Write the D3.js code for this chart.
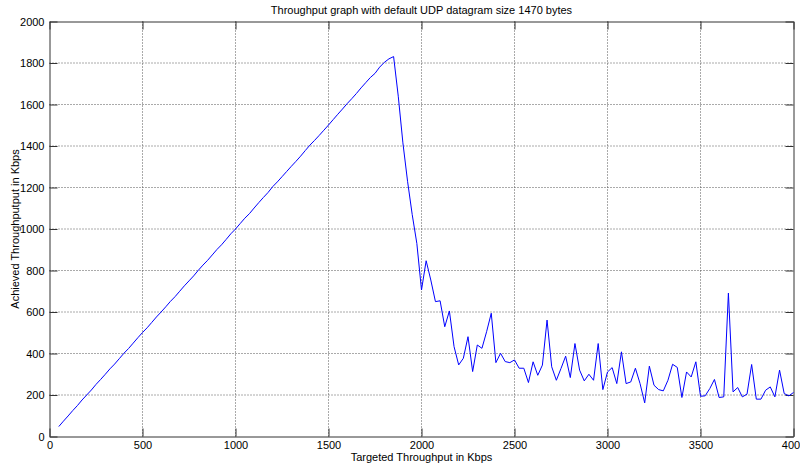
<!DOCTYPE html>
<html>
<head>
<meta charset="utf-8">
<script src="https://cdn.jsdelivr.net/npm/d3@7"></script>
<style>
  body { margin: 0; background: #fff; }
  text { font-family: "Liberation Sans", Arial, sans-serif; }
</style>
</head>
<body>
<div id="chart"></div>
<script>
// targeted throughput (Kbps), one sample every 25 Kbps
const targeted = [
  50, 75, 100, 125, 150, 175, 200, 225, 250, 275, 300, 325, 350, 375, 400, 425, 450, 475,
  500, 525, 550, 575, 600, 625, 650, 675, 700, 725, 750, 775, 800, 825, 850, 875, 900, 925,
  950, 975, 1000, 1025, 1050, 1075, 1100, 1125, 1150, 1175, 1200, 1225, 1250, 1275, 1300, 1325,
  1350, 1375, 1400, 1425, 1450, 1475, 1500, 1525, 1550, 1575, 1600, 1625, 1650, 1675, 1700, 1725,
  1750, 1775, 1800, 1825, 1850, 1875, 1900, 1925, 1950, 1975, 2000, 2025, 2050, 2075, 2100, 2125,
  2150, 2175, 2200, 2225, 2250, 2275, 2300, 2325, 2350, 2375, 2400, 2425, 2450, 2475, 2500, 2525,
  2550, 2575, 2600, 2625, 2650, 2675, 2700, 2725, 2750, 2775, 2800, 2825, 2850, 2875, 2900, 2925,
  2950, 2975, 3000, 3025, 3050, 3075, 3100, 3125, 3150, 3175, 3200, 3225, 3250, 3275, 3300, 3325,
  3350, 3375, 3400, 3425, 3450, 3475, 3500, 3525, 3550, 3575, 3600, 3625, 3650, 3675, 3700, 3725,
  3750, 3775, 3800, 3825, 3850, 3875, 3900, 3925, 3950, 3975, 4000
];

// achieved throughput (Kbps)
const achieved = [
  48, 74, 99, 125, 149, 176, 200, 224, 251, 275, 300, 326, 349, 375, 401, 424, 450, 476,
  501, 524, 550, 576, 600, 625, 651, 674, 700, 726, 750, 774, 801, 826, 849, 875, 901, 924,
  950, 977, 1000, 1026, 1052, 1074, 1101, 1127, 1152, 1176, 1204, 1227, 1252, 1277, 1302, 1326,
  1351, 1378, 1404, 1427, 1451, 1476, 1501, 1527, 1553, 1578, 1604, 1628, 1653, 1680, 1705, 1730,
  1750, 1780, 1803, 1820, 1831, 1640, 1415, 1230, 1070, 930, 706, 847, 754, 650, 654, 529,
  605, 433, 345, 377, 481, 313, 441, 425, 505, 594, 356, 401, 361, 356, 369, 329,
  329, 260, 360, 295, 344, 561, 336, 271, 328, 387, 284, 448, 320, 268, 300, 271,
  448, 226, 311, 332, 255, 408, 255, 263, 329, 255, 162, 339, 247, 226, 220, 271,
  348, 333, 188, 311, 287, 360, 194, 196, 231, 275, 188, 191, 691, 215, 236, 191,
  204, 347, 180, 180, 223, 239, 191, 320, 207, 196, 212
];

const xTicks = [0, 500, 1000, 1500, 2000, 2500, 3000, 3500, 4000];
const yTicks = [0, 200, 400, 600, 800, 1000, 1200, 1400, 1600, 1800, 2000];

const data = targeted.map((t, i) => ({ x: t, y: achieved[i] }));

const width = 800,
    height = 465,
    margin = ({ top: 21.5, right: 6.5, bottom: 28.5, left: 49.5 });

let svg = d3.select("#chart")
            .append("svg")
            .attr("width", width)
            .attr("height", height);

const x = d3.scaleLinear()
            .domain([0, 4000])
            .range([margin.left, width - margin.right]);

const y = d3.scaleLinear()
            .domain([0, 2000])
            .range([height - margin.bottom, margin.top]);

// dotted grid
svg.append("g")
    .selectAll("line")
    .data(xTicks.slice(1, -1))
    .join("line")
    .attr("x1", d => x(d)).attr("x2", d => x(d))
    .attr("y1", y(0)).attr("y2", y(2000))
    .attr("stroke", "#555")
    .attr("stroke-dasharray", "1,2");

svg.append("g")
    .selectAll("line")
    .data(yTicks.slice(1, -1))
    .join("line")
    .attr("x1", x(0)).attr("x2", x(4000))
    .attr("y1", d => y(d)).attr("y2", d => y(d))
    .attr("stroke", "#555")
    .attr("stroke-dasharray", "1,2");

// axes, ticks pointing inward like matlab
const tickLen = 8;
const fmt = d3.format("d");

const xAxis = (g) => g
    .attr("transform", `translate(0, ${y(0)})`)
    .call(d3.axisBottom(x).tickValues(xTicks).tickFormat(fmt).tickSizeInner(-tickLen).tickSizeOuter(0))
    .call(g => g.selectAll("text").attr("dy", "0.71em").attr("y", 5));

const xAxisTop = (g) => g
    .attr("transform", `translate(0, ${y(2000)})`)
    .call(d3.axisTop(x).tickValues(xTicks).tickSizeInner(-tickLen).tickSizeOuter(0).tickFormat(""));

const yAxis = (g) => g
    .attr("transform", `translate(${x(0)}, 0)`)
    .call(d3.axisLeft(y).tickValues(yTicks).tickFormat(fmt).tickSizeInner(-tickLen).tickSizeOuter(0))
    .call(g => g.selectAll("text").attr("x", -5));

const yAxisRight = (g) => g
    .attr("transform", `translate(${x(4000)}, 0)`)
    .call(d3.axisRight(y).tickValues(yTicks).tickSizeInner(-tickLen).tickSizeOuter(0).tickFormat(""));

[xAxis, xAxisTop, yAxis, yAxisRight].forEach(a => {
    svg.append("g")
        .call(a)
        .call(g => g.selectAll("path, line").attr("stroke", "#333"))
        .call(g => g.selectAll("text").attr("fill", "#000").attr("font-size", 11)
            .attr("font-family", "'Liberation Sans', Arial, sans-serif"));
});

// the series
const line = d3.line()
    .x(d => x(d.x))
    .y(d => y(d.y));

svg.append("path")
    .datum(data)
    .attr("fill", "none")
    .attr("stroke", "#0000ff")
    .attr("stroke-width", 1)
    .attr("d", line);

// labels
svg.append("text")
    .attr("x", (x(0) + x(4000)) / 2)
    .attr("y", 14)
    .attr("text-anchor", "middle")
    .attr("font-size", 11)
    .text("Throughput graph with default UDP datagram size 1470 bytes");

svg.append("text")
    .attr("x", (x(0) + x(4000)) / 2)
    .attr("y", 461)
    .attr("text-anchor", "middle")
    .attr("font-size", 11)
    .text("Targeted Throughput in Kbps");

svg.append("text")
    .attr("transform", `translate(19, ${(y(0) + y(2000)) / 2}) rotate(-90)`)
    .attr("text-anchor", "middle")
    .attr("font-size", 11)
    .text("Achieved Throughputput in Kbps");
</script>
</body>
</html>
